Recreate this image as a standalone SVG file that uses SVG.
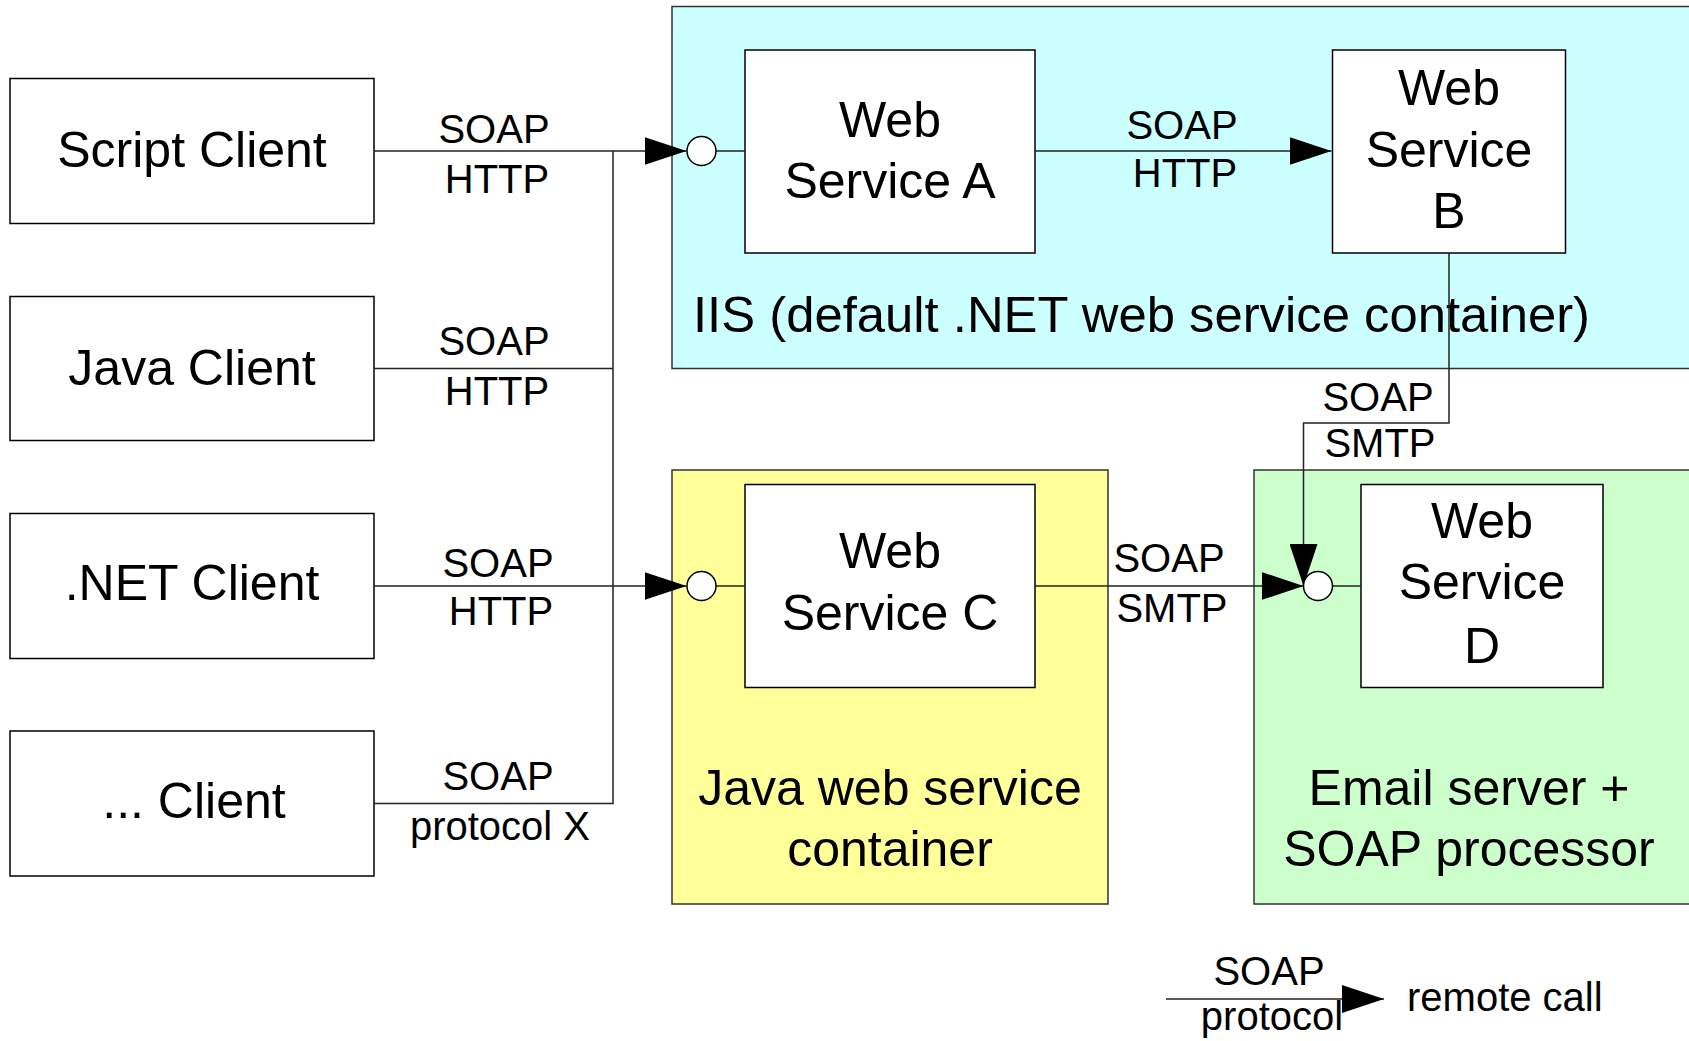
<svg xmlns="http://www.w3.org/2000/svg" width="1689" height="1041" viewBox="0 0 1689 1041">
<style>
text { font-family: "Liberation Sans", Arial, sans-serif; fill: #000; }
.big { font-size: 50px; text-anchor: middle; }
.lbl { font-size: 40px; text-anchor: middle; }
.box { fill: #fff; stroke: #000; stroke-width: 1.5; }
.cont { stroke: #333; stroke-width: 1.5; }
.conn { fill: none; stroke: #222; stroke-width: 1.5; }
.port { fill: #fff; stroke: #000; stroke-width: 1.5; }
</style>
<defs>
<marker id="arr" markerUnits="userSpaceOnUse" markerWidth="42" markerHeight="28" viewBox="0 0 42 28" refX="42" refY="14" orient="auto">
<path d="M0,0 L42,14 L0,28 z" fill="#000"/>
</marker>
</defs>
<rect width="1689" height="1041" fill="#fff"/>

<g id="iis-container">
<rect class="cont" x="672" y="6.5" width="1030" height="362" fill="#ccffff"/>
<text x="693" y="332" style="font-size:50px" textLength="897" lengthAdjust="spacingAndGlyphs">IIS (default .NET web service container)</text>
</g>
<g id="java-container">
<rect class="cont" x="672" y="470" width="436" height="434" fill="#ffff99"/>
<text class="big" x="890" y="805">Java web service</text>
<text class="big" x="890" y="866">container</text>
</g>
<g id="email-container">
<rect class="cont" x="1254" y="470" width="450" height="434" fill="#ccffcc"/>
<text class="big" x="1469" y="805">Email server +</text>
<text class="big" x="1469" y="866">SOAP processor</text>
</g>

<g id="script-client">
<rect class="box" x="10" y="78.5" width="364" height="145"/>
<text class="big" x="192" y="167">Script Client</text>
</g>
<g id="java-client">
<rect class="box" x="10" y="296.5" width="364" height="144"/>
<text class="big" x="192" y="385">Java Client</text>
</g>
<g id="net-client">
<rect class="box" x="10" y="513.5" width="364" height="145"/>
<text class="big" x="192" y="600">.NET Client</text>
</g>
<g id="other-client">
<rect class="box" x="10" y="731" width="364" height="145"/>
<text class="big" x="194" y="818">... Client</text>
</g>

<g id="web-service-a">
<rect class="box" x="745" y="50" width="290" height="203"/>
<text class="big" x="890" y="137">Web</text>
<text class="big" x="890" y="198">Service A</text>
</g>
<g id="web-service-b">
<rect class="box" x="1332.5" y="50" width="233" height="203"/>
<text class="big" x="1449" y="105">Web</text>
<text class="big" x="1449" y="167">Service</text>
<text class="big" x="1449" y="228">B</text>
</g>
<g id="web-service-c">
<rect class="box" x="745" y="484.5" width="290" height="203"/>
<text class="big" x="890" y="568">Web</text>
<text class="big" x="890" y="630">Service C</text>
</g>
<g id="web-service-d">
<rect class="box" x="1361" y="484.5" width="242" height="203"/>
<text class="big" x="1482" y="538">Web</text>
<text class="big" x="1482" y="599">Service</text>
<text class="big" x="1482" y="663">D</text>
</g>

<g id="connectors">
<path class="conn" d="M374,151 H686.5" marker-end="url(#arr)"/>
<path class="conn" d="M374,368.5 H613"/>
<path class="conn" d="M374,586 H686.5" marker-end="url(#arr)"/>
<path class="conn" d="M374,803.5 H613 V151"/>
<path class="conn" d="M716,151 H745"/>
<path class="conn" d="M716,586 H745"/>
<path class="conn" d="M1035,151 H1331.5" marker-end="url(#arr)"/>
<path class="conn" d="M1035,586 H1303.5" marker-end="url(#arr)"/>
<path class="conn" d="M1449,253 V423 H1303.5 V586" marker-end="url(#arr)"/>
<path class="conn" d="M1333,586 H1361"/>
<path class="conn" d="M1166,999 H1384" marker-end="url(#arr)"/>
<circle class="port" cx="701.5" cy="151" r="14.5"/>
<circle class="port" cx="701.5" cy="586" r="14.5"/>
<circle class="port" cx="1318" cy="586" r="14.5"/>
<text class="lbl" x="494" y="143">SOAP</text>
<text class="lbl" x="497" y="193">HTTP</text>
<text class="lbl" x="494" y="355">SOAP</text>
<text class="lbl" x="497" y="405">HTTP</text>
<text class="lbl" x="498" y="577">SOAP</text>
<text class="lbl" x="501" y="625">HTTP</text>
<text class="lbl" x="498" y="790">SOAP</text>
<text class="lbl" x="500" y="840">protocol X</text>
<text class="lbl" x="1182" y="139">SOAP</text>
<text class="lbl" x="1185" y="187">HTTP</text>
<text class="lbl" x="1169" y="572">SOAP</text>
<text class="lbl" x="1172" y="622">SMTP</text>
<text class="lbl" x="1378" y="411">SOAP</text>
<text class="lbl" x="1380" y="457">SMTP</text>
<text class="lbl" x="1269" y="985">SOAP</text>
<text class="lbl" x="1272" y="1030">protocol</text>
<text x="1407" y="1011" style="font-size:40px">remote call</text>
</g>
</svg>
